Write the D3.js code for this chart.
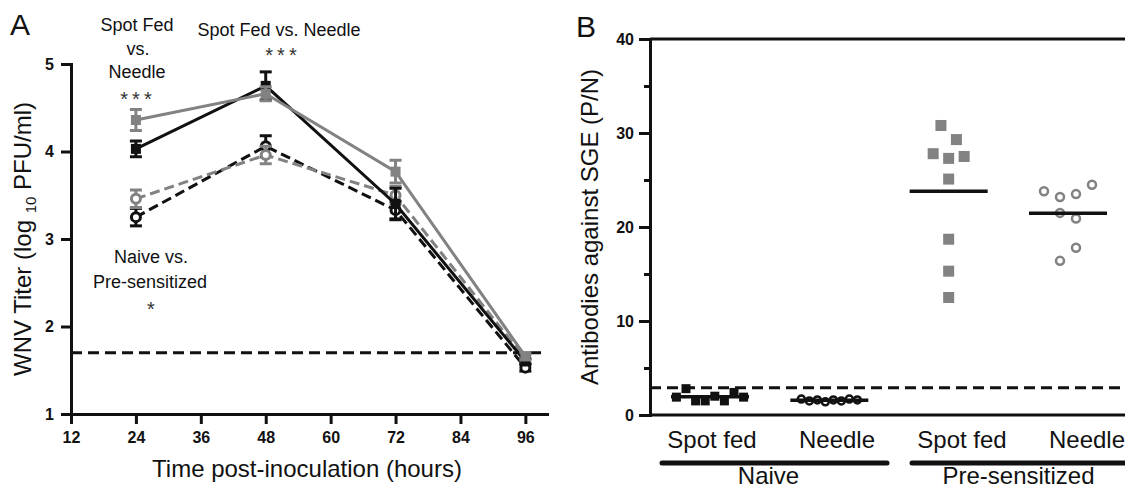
<!DOCTYPE html>
<html>
<head>
<meta charset="utf-8">
<script src="https://cdn.jsdelivr.net/npm/d3@7"></script>
<style>
  html, body { margin: 0; padding: 0; background: #fff; }
  svg { display: block; font-family: 'Liberation Sans', Arial, sans-serif; }
  .axis .domain, .axis line { stroke: #111; stroke-width: 3; }
  .axis text { font-size: 16px; font-weight: bold; fill: #111; font-family: 'Liberation Sans', Arial, sans-serif; }
</style>
</head>
<body>
<div id="chart"></div>
<script>
// ---- data: panel A (log10 PFU/ml, mean and SEM per time point)
const hoursA = [24, 48, 72, 96];
const naiveSpotMean = [4.03, 4.75, 3.4, 1.6];
const naiveSpotSem = [0.09, 0.16, 0.18, 0.03];
const naiveNeedleMean = [3.25, 4.06, 3.33, 1.53];
const naiveNeedleSem = [0.1, 0.12, 0.1, 0.04];
const preSpotMean = [4.36, 4.66, 3.77, 1.66];
const preSpotSem = [0.12, 0.08, 0.13, 0.04];
const preNeedleMean = [3.46, 3.96, 3.5, 1.63];
const preNeedleSem = [0.1, 0.1, 0.1, 0.05];
const detectionLimitA = 1.7;
const xTicksA = [12, 24, 36, 48, 60, 72, 84, 96];
const yTicksA = [1, 2, 3, 4, 5];

// ---- data: panel B (P/N ratio per animal)
const categoriesB = ['naive-spot', 'naive-needle', 'pre-spot', 'pre-needle'];
const catLabelsB = ['Spot fed', 'Needle', 'Spot fed', 'Needle'];
const groupsB = ['Naive', 'Pre-sensitized'];
const naiveSpotPN = [1.9, 2.8, 1.5, 1.5, 2.0, 1.5, 2.4, 1.9];
const naiveNeedlePN = [1.7, 1.5, 1.6, 1.4, 1.6, 1.5, 1.7, 1.6];
const preSpotPN = [30.8, 29.3, 27.8, 27.3, 27.5, 25.1, 18.7, 15.3, 12.5];
const preNeedlePN = [23.8, 23.2, 23.5, 24.5, 21.5, 20.9, 16.4, 17.8];
const cutoffB = 2.9;
const yTicksB = [0, 10, 20, 30, 40];
const yMinorTicksB = [5, 15, 25, 35];

// ---- styles
const BLACK = '#111';
const GRAY = '#828282';
const FONT = "'Liberation Sans', Arial, sans-serif";

const svg = d3.select('#chart').append('svg')
  .attr('width', 1125)
  .attr('height', 491);

// ===================== panel A =====================
const xA = d3.scaleLinear().domain([12, 100]).range([71, 547]);
const yA = d3.scaleLinear().domain([1, 5]).range([414, 64]);

const $a = svg.append('g').attr('class', 'panel-a');

$a.append('g')
  .attr('class', 'axis')
  .attr('transform', `translate(0, ${yA(1)})`)
  .call(d3.axisBottom(xA).tickValues(xTicksA).tickSize(10).tickPadding(8).tickSizeOuter(0))
  .call(g => g.select('.domain').attr('stroke-linecap', 'square'));

$a.append('g')
  .attr('class', 'axis')
  .attr('transform', `translate(${xA(12)}, 0)`)
  .call(d3.axisLeft(yA).tickValues(yTicksA).tickFormat(d3.format('d'))
    .tickSize(10).tickPadding(7).tickSizeOuter(0))
  .call(g => g.select('.domain').attr('stroke-linecap', 'square'));

// limit of detection
$a.append('line')
  .attr('x1', xA(12)).attr('x2', xA(100))
  .attr('y1', yA(detectionLimitA)).attr('y2', yA(detectionLimitA))
  .attr('stroke', BLACK).attr('stroke-width', 3)
  .attr('stroke-dasharray', '11,6');

const seriesA = [
  { key: 'naive-needle', mean: naiveNeedleMean, sem: naiveNeedleSem, color: BLACK, dash: '10,5', shape: 'circle' },
  { key: 'pre-needle', mean: preNeedleMean, sem: preNeedleSem, color: GRAY, dash: '10,5', shape: 'circle' },
  { key: 'naive-spot', mean: naiveSpotMean, sem: naiveSpotSem, color: BLACK, dash: null, shape: 'square' },
  { key: 'pre-spot', mean: preSpotMean, sem: preSpotSem, color: GRAY, dash: null, shape: 'square' },
];

const lineA = d3.line().x(d => xA(d.h)).y(d => yA(d.v));

seriesA.forEach(s => {
  const pts = hoursA.map((h, i) => ({ h, v: s.mean[i], e: s.sem[i] }));
  const $s = $a.append('g').attr('class', `series ${s.key}`);

  $s.append('path')
    .datum(pts)
    .attr('d', lineA)
    .attr('fill', 'none')
    .attr('stroke', s.color)
    .attr('stroke-width', 3)
    .attr('stroke-dasharray', s.dash);

  // error bars
  const $err = $s.selectAll('.err').data(pts).join('g').attr('class', 'err')
    .attr('stroke', s.color).attr('stroke-width', 3);
  $err.append('line')
    .attr('x1', d => xA(d.h)).attr('x2', d => xA(d.h))
    .attr('y1', d => yA(d.v - d.e)).attr('y2', d => yA(d.v + d.e));
  [-1, 1].forEach(sign => {
    $err.append('line')
      .attr('x1', d => xA(d.h) - 6).attr('x2', d => xA(d.h) + 6)
      .attr('y1', d => yA(d.v + sign * d.e)).attr('y2', d => yA(d.v + sign * d.e));
  });

  // markers
  if (s.shape === 'square') {
    $s.selectAll('rect').data(pts).join('rect')
      .attr('x', d => xA(d.h) - 5).attr('y', d => yA(d.v) - 5)
      .attr('width', 10).attr('height', 10)
      .attr('fill', s.color);
  } else {
    $s.selectAll('circle').data(pts).join('circle')
      .attr('cx', d => xA(d.h)).attr('cy', d => yA(d.v))
      .attr('r', 4.5)
      .attr('fill', '#fff')
      .attr('stroke', s.color).attr('stroke-width', 3);
  }
});

// annotations
function addText($g, x, y, str, size, anchor = 'middle') {
  return $g.append('text')
    .attr('x', x).attr('y', y)
    .attr('text-anchor', anchor)
    .attr('font-family', FONT)
    .attr('font-size', size)
    .attr('fill', BLACK)
    .text(str);
}

addText($a, 10, 35, 'A', 30, 'start');
addText($a, 137, 31, 'Spot Fed', 18);
addText($a, 138, 55, 'vs.', 18);
addText($a, 137, 78, 'Needle', 18);
addText($a, 138, 106, '***', 20).attr('letter-spacing', 4).attr('fill', '#333');
addText($a, 279, 36, 'Spot Fed vs. Needle', 18);
addText($a, 283, 62, '***', 20).attr('letter-spacing', 4).attr('fill', '#333');
addText($a, 151, 263, 'Naive vs.', 18);
addText($a, 150, 288, 'Pre-sensitized', 18);
addText($a, 151, 316, '*', 20).attr('fill', '#333');

addText($a, 307, 477, 'Time post-inoculation (hours)', 24);

const $yTitleA = $a.append('text')
  .attr('transform', `translate(31, ${(yA(1) + yA(5)) / 2}) rotate(-90)`)
  .attr('text-anchor', 'middle')
  .attr('font-family', FONT)
  .attr('font-size', 24)
  .attr('fill', BLACK);
$yTitleA.append('tspan').text('WNV Titer (log ');
$yTitleA.append('tspan').attr('font-size', 15).attr('dy', 5).text('10');
$yTitleA.append('tspan').attr('dy', -5).text(' PFU/ml)');

// ===================== panel B =====================
const yB = d3.scaleLinear().domain([0, 40]).range([415, 39]);
const xB = d3.scalePoint().domain(categoriesB).range([710, 1068]);
const xLabelB = d3.scalePoint().domain(categoriesB).range([712, 1087]);
const AXIS_XB = 650;
const RIGHT_EDGE = 1125;

const $b = svg.append('g').attr('class', 'panel-b');

// frame lines (bottom and top)
[0, 40].forEach(v => {
  $b.append('line')
    .attr('x1', AXIS_XB).attr('x2', RIGHT_EDGE)
    .attr('y1', yB(v)).attr('y2', yB(v))
    .attr('stroke', BLACK).attr('stroke-width', 3);
});

$b.append('g')
  .attr('class', 'axis')
  .attr('transform', `translate(${AXIS_XB}, 0)`)
  .call(d3.axisLeft(yB).tickValues(yTicksB).tickSize(11).tickPadding(5).tickSizeOuter(0))
  .call(g => g.select('.domain').attr('stroke-linecap', 'square'));

$b.append('g')
  .attr('class', 'axis')
  .attr('transform', `translate(${AXIS_XB}, 0)`)
  .call(d3.axisLeft(yB).tickValues(yMinorTicksB).tickSize(6).tickFormat('').tickSizeOuter(0))
  .call(g => g.select('.domain').remove());

// cutoff
$b.append('line')
  .attr('x1', AXIS_XB).attr('x2', RIGHT_EDGE)
  .attr('y1', yB(cutoffB)).attr('y2', yB(cutoffB))
  .attr('stroke', BLACK).attr('stroke-width', 3)
  .attr('stroke-dasharray', '11,6');

// simple row-based scatter layout (points close in y share a row)
function swarm(values, spacing) {
  const rows = [];
  values.forEach(v => {
    const py = yB(v);
    const row = rows[rows.length - 1];
    if (row && Math.abs(py - row.start) < 15) row.items.push(v);
    else rows.push({ start: py, items: [v] });
  });
  return rows.flatMap(r => r.items.map((v, k) => ({ value: v, dx: (k - (r.items.length - 1) / 2) * spacing })));
}

const seriesB = [
  { key: 'naive-spot', values: naiveSpotPN, color: BLACK, shape: 'square', size: 9, spacing: 9.6 },
  { key: 'naive-needle', values: naiveNeedlePN, color: BLACK, shape: 'circle', size: 7, spacing: 8 },
  { key: 'pre-spot', values: preSpotPN, color: GRAY, shape: 'square', size: 11, spacing: 15.5 },
  { key: 'pre-needle', values: preNeedlePN, color: GRAY, shape: 'circle', size: 8, spacing: 16 },
];

seriesB.forEach(s => {
  const cx = xB(s.key);
  const pts = swarm(s.values, s.spacing);
  const $s = $b.append('g').attr('class', `dots ${s.key}`);

  if (s.shape === 'square') {
    $s.selectAll('rect').data(pts).join('rect')
      .attr('x', d => cx + d.dx - s.size / 2)
      .attr('y', d => yB(d.value) - s.size / 2)
      .attr('width', s.size).attr('height', s.size)
      .attr('fill', s.color);
  } else {
    $s.selectAll('circle').data(pts).join('circle')
      .attr('cx', d => cx + d.dx)
      .attr('cy', d => yB(d.value))
      .attr('r', s.size / 2)
      .attr('fill', '#fff')
      .attr('stroke', s.color).attr('stroke-width', 2.5);
  }

  // mean line
  const m = d3.mean(s.values);
  $b.append('line')
    .attr('x1', cx - 39).attr('x2', cx + 39)
    .attr('y1', yB(m)).attr('y2', yB(m))
    .attr('stroke', BLACK).attr('stroke-width', 3.5);
});

// category labels
categoriesB.forEach((c, i) => {
  addText($b, xLabelB(c), 448, catLabelsB[i], 24);
});

// group bars and labels
groupsB.forEach((g, gi) => {
  const cats = categoriesB.slice(gi * 2, gi * 2 + 2);
  const x1 = xLabelB(cats[0]) - 50;
  const x2 = xLabelB(cats[1]) + 50;
  $b.append('line')
    .attr('x1', x1).attr('x2', x2)
    .attr('y1', 463).attr('y2', 463)
    .attr('stroke', BLACK).attr('stroke-width', 5)
    .attr('stroke-linecap', 'round');
  addText($b, (xLabelB(cats[0]) + xLabelB(cats[1])) / 2 - 6, 484, g, 24);
});

addText($b, 576, 37, 'B', 30, 'start');

$b.append('text')
  .attr('transform', `translate(598, ${(yB(0) + yB(40)) / 2}) rotate(-90)`)
  .attr('text-anchor', 'middle')
  .attr('font-family', FONT)
  .attr('font-size', 24)
  .attr('fill', BLACK)
  .text('Antibodies against SGE (P/N)');
</script>
</body>
</html>
